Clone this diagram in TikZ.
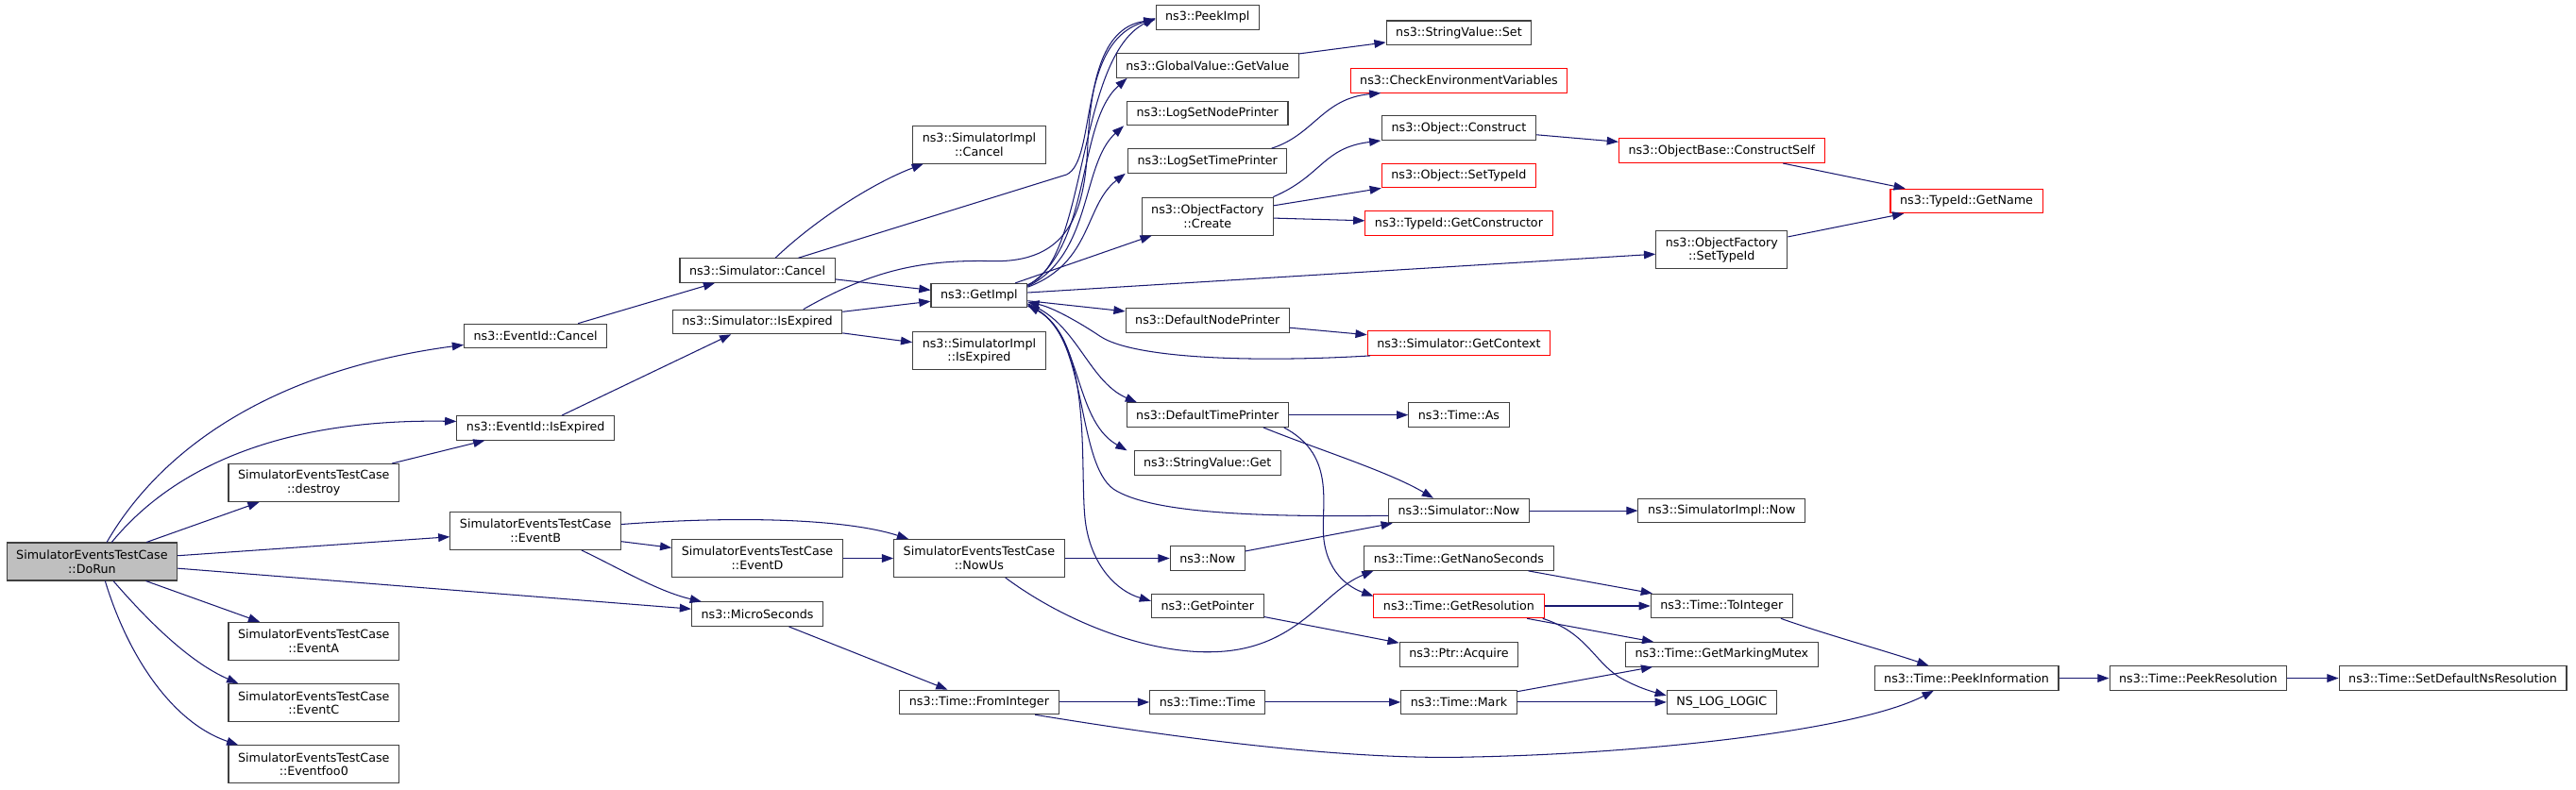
\documentclass[tikz,border=0pt]{standalone}
\usepackage{fontspec}
\setmainfont{DejaVu Sans}
\usetikzlibrary{arrows.meta}
\definecolor{edgecol}{RGB}{25,25,112}
\definecolor{boxgray}{RGB}{64,64,64}
\definecolor{grayfill}{RGB}{191,191,191}
\definecolor{redline}{RGB}{255,0,0}
\newcommand\dxfont{\fontsize{7.3pt}{8.4pt}\selectfont}
\tikzset{
  box/.style={draw=boxgray, line width=0.6pt, fill=white, inner xsep=5.8pt, inner ysep=0pt, minimum height=14.7pt, font=\dxfont},
  box2/.style={box, align=center, minimum height=23pt},
  redbox/.style={box, draw=redline},
  call/.style={draw=edgecol, line width=0.6pt, -{Triangle[length=7pt,width=5pt]}}
}
\begin{document}
\begin{tikzpicture}[x=1pt,y=-1pt]
\fill[white] (0,0) rectangle (1568,481);
\useasboundingbox (0,0) rectangle (1568,481);
% nodes
\node[box2,fill=grayfill] (DoRun) at (56,342) {SimulatorEventsTestCase\\::DoRun};
\node[box2] (destroy) at (191,294) {SimulatorEventsTestCase\\::destroy};
\node[box2] (EventA) at (191,390.5) {SimulatorEventsTestCase\\::EventA};
\node[box2] (EventC) at (191,428) {SimulatorEventsTestCase\\::EventC};
\node[box2] (Eventfoo) at (191,465.5) {SimulatorEventsTestCase\\::Eventfoo0};
\node[box] (EvCancel) at (326,204.6) {ns3::EventId::Cancel};
\node[box] (EvIsExp) at (326,260.6) {ns3::EventId::IsExpired};
\node[box2] (EventB) at (326,323.3) {SimulatorEventsTestCase\\::EventB};
\node[box] (SimCancel) at (461,164.7) {ns3::Simulator::Cancel};
\node[box] (SimIsExp) at (461,196) {ns3::Simulator::IsExpired};
\node[box2] (EventD) at (461,340) {SimulatorEventsTestCase\\::EventD};
\node[box] (Micro) at (461,374) {ns3::MicroSeconds};
\node[box2] (SimImplCancel) at (596,88) {ns3::SimulatorImpl\\::Cancel};
\node[box] (GetImpl) at (596,180) {ns3::GetImpl};
\node[box2] (SimImplIsExp) at (596,213.8) {ns3::SimulatorImpl\\::IsExpired};
\node[box2] (NowUs) at (596,340) {SimulatorEventsTestCase\\::NowUs};
\node[box] (FromInt) at (596,427.6) {ns3::Time::FromInteger};
\node[box] (PeekImpl) at (735,10.5) {ns3::PeekImpl};
\node[box] (GetValue) at (735,40) {ns3::GlobalValue::GetValue};
\node[box] (LSNP) at (735,69) {ns3::LogSetNodePrinter};
\node[box] (LSTP) at (735,98) {ns3::LogSetTimePrinter};
\node[box2] (OFCreate) at (735,131.7) {ns3::ObjectFactory\\::Create};
\node[box] (DNP) at (735,195) {ns3::DefaultNodePrinter};
\node[box] (DTP) at (735,252.7) {ns3::DefaultTimePrinter};
\node[box] (SVGet) at (735,282) {ns3::StringValue::Get};
\node[box] (Now) at (735,340) {ns3::Now};
\node[box] (GetPointer) at (735,369) {ns3::GetPointer};
\node[box] (TimeTime) at (735,427.6) {ns3::Time::Time};
\node[box] (SVSet) at (888,20) {ns3::StringValue::Set};
\node[redbox] (CheckEnv) at (888,49) {ns3::CheckEnvironmentVariables};
\node[box] (ObjConstruct) at (888,78) {ns3::Object::Construct};
\node[redbox] (ObjSetTypeId) at (888,107) {ns3::Object::SetTypeId};
\node[redbox] (GetCtor) at (888,136) {ns3::TypeId::GetConstructor};
\node[redbox] (GetContext) at (888,209) {ns3::Simulator::GetContext};
\node[box] (TimeAs) at (888,252.7) {ns3::Time::As};
\node[box] (SimNow) at (888,311) {ns3::Simulator::Now};
\node[box] (GetNano) at (888,340) {ns3::Time::GetNanoSeconds};
\node[redbox] (GetRes) at (888,369) {ns3::Time::GetResolution};
\node[box] (PtrAcq) at (888,398.5) {ns3::Ptr::Acquire};
\node[box] (Mark) at (888,427.6) {ns3::Time::Mark};
\node[redbox] (ConstructSelf) at (1048,91.8) {ns3::ObjectBase::ConstructSelf};
\node[box2] (OFSetTypeId) at (1048,152.3) {ns3::ObjectFactory\\::SetTypeId};
\node[box] (SimImplNow) at (1048,311) {ns3::SimulatorImpl::Now};
\node[box] (ToInteger) at (1048,369) {ns3::Time::ToInteger};
\node[box] (GetMutex) at (1048,398.5) {ns3::Time::GetMarkingMutex};
\node[box] (NSLOG) at (1048,427.6) {NS\_LOG\_LOGIC};
\node[redbox] (GetName) at (1197,122.4) {ns3::TypeId::GetName};
\node[box] (PeekInfo) at (1197,413) {ns3::Time::PeekInformation};
\node[box] (PeekRes) at (1338,413) {ns3::Time::PeekResolution};
\node[box] (SetDefNs) at (1493,413) {ns3::Time::SetDefaultNsResolution};
% edges from DoRun
\draw[call] ([xshift=9pt]DoRun.north) .. controls (100,270) and (170,225) .. ([yshift=-5.4pt]EvCancel.west);
\draw[call] ([xshift=12pt]DoRun.north) .. controls (105,285) and (170,255) .. ([yshift=4pt]EvIsExp.west);
\draw[call] (DoRun) -- (destroy);
\draw[call] (DoRun) -- (EventB);
\draw[call] (DoRun) -- (Micro);
\draw[call] (DoRun) -- (EventA);
\draw[call] ([xshift=13pt]DoRun.south) .. controls (90,378) and (115,403) .. ([xshift=-46pt]EventC.north);
\draw[call] ([xshift=8pt]DoRun.south) .. controls (78,400) and (105,440) .. ([xshift=-46pt]Eventfoo.north);
% second column
\draw[call] (destroy) -- (EvIsExp);
\draw[call] (EvCancel) -- (SimCancel);
\draw[call] (EvIsExp) -- (SimIsExp);
\draw[call] ([yshift=4pt]EventB.east) .. controls (450,314) and (515,316) .. ([xshift=-43pt]NowUs.north);
\draw[call] (EventB) -- (EventD);
\draw[call] ([xshift=28pt]EventB.south) .. controls (375,345) and (400,360) .. ([xshift=-34pt]Micro.north);
\draw[call] (EventD) -- (NowUs);
\draw[call] (NowUs) -- (Now);
\draw[call] ([xshift=16pt]NowUs.south) .. controls (650,380) and (700,398) .. (738,397) .. controls (790,396) and (805,360) .. ([xshift=-52pt]GetNano.south);
\draw[call] (Micro) -- (FromInt);
\draw[call] (FromInt) -- (TimeTime);
\draw[call] ([xshift=34pt]FromInt.south) .. controls (720,450) and (820,463) .. (895,461) .. controls (1000,459) and (1130,445) .. ([xshift=-20pt]PeekInfo.south);
% simulator
\draw[call] ([xshift=11pt]SimCancel.north) .. controls (495,135) and (530,112) .. ([xshift=-34pt]SimImplCancel.south);
\draw[call] ([xshift=25pt]SimCancel.north) -- (649.3,106.3) .. controls (668,97) and (655,25) .. ([yshift=-1pt]PeekImpl.west);
\draw[call] (SimCancel) -- (GetImpl);
\draw[call] (SimIsExp) -- (GetImpl);
\draw[call] (SimIsExp) -- (SimImplIsExp);
\draw[call] ([xshift=28pt]SimIsExp.north) .. controls (530,165) and (560,158) .. (604,159) .. controls (650,160) and (660,130) .. (662,90) .. controls (664,40) and (675,16) .. ([yshift=-1.5pt]PeekImpl.west);
% GetImpl
\draw[call] ([yshift=-1pt]GetImpl.north east) .. controls (662,160) and (655,35) .. ([yshift=-0.5pt]PeekImpl.west);
\draw[call] ([yshift=-1.5pt]GetImpl.north east) .. controls (665,150) and (655,75) .. ([xshift=-49pt]GetValue.south);
\draw[call] ([yshift=-2pt]GetImpl.north east) .. controls (665,155) and (658,100) .. ([xshift=-51pt]LSNP.south);
\draw[call] ([yshift=-2.5pt]GetImpl.north east) .. controls (665,160) and (660,125) .. ([xshift=-50pt]LSTP.south);
\draw[call] (GetImpl) -- (OFCreate);
\draw[call] (GetImpl) -- (OFSetTypeId);
\draw[call] (GetImpl) -- (DNP);
\draw[call] ([xshift=2pt]GetContext.south west) .. controls (760,221) and (690,218) .. (670,205) .. controls (655,195) and (640,187) .. ([yshift=-4pt]GetImpl.east);
\draw[call] ([yshift=-3pt]SimNow.west) .. controls (760,315) and (700,312) .. (678,298) .. controls (655,282) and (662,205) .. ([yshift=-6pt]GetImpl.east);
\draw[call] ([yshift=-5pt]GetImpl.east) .. controls (655,195) and (662,232) .. ([xshift=-43pt]DTP.north);
\draw[call] ([yshift=-5.5pt]GetImpl.east) .. controls (660,200) and (652,255) .. ([xshift=-49pt]SVGet.north);
\draw[call] ([yshift=-6.5pt]GetImpl.east) .. controls (668,200) and (656,290) .. (661,320) .. controls (665,345) and (680,360) .. ([yshift=3pt]GetPointer.west);
% fifth column
\draw[call] (GetValue) -- (SVSet);
\draw[call] ([xshift=39pt]LSTP.north) .. controls (800,82) and (805,60) .. ([xshift=-47.5pt]CheckEnv.south);
\draw[call] ([xshift=40pt]OFCreate.north) .. controls (805,107) and (805,90) .. ([xshift=-47.5pt]ObjConstruct.south);
\draw[call] (OFCreate) -- (ObjSetTypeId);
\draw[call] (OFCreate) -- (GetCtor);
\draw[call] (ObjConstruct) -- (ConstructSelf);
\draw[call] (ConstructSelf) -- (GetName);
\draw[call] (OFSetTypeId) -- (GetName);
\draw[call] (DNP) -- (GetContext);
\draw[call] (DTP) -- (TimeAs);
\draw[call] ([xshift=34pt]DTP.south) .. controls (800,273) and (845,287) .. ([xshift=-15.5pt]SimNow.north);
\draw[call] ([xshift=46.5pt]DTP.south) .. controls (815,278) and (803,310) .. (806,330) .. controls (809,350) and (822,358) .. ([yshift=6pt]GetRes.west);
\draw[call] (SimNow) -- (SimImplNow);
\draw[call] (Now) -- (SimNow);
\draw[call] (GetNano) -- (ToInteger);
\draw[call] (GetRes) -- (ToInteger);
\draw[call] (GetRes) -- (GetMutex);
\draw[call] ([xshift=-1pt]GetRes.south east) .. controls (965,385) and (970,402) .. (985,412) .. controls (995,418) and (1005,421) .. ([yshift=4pt]NSLOG.west);
\draw[call] (GetPointer) -- (PtrAcq);
\draw[call] (TimeTime) -- (Mark);
\draw[call] (Mark) -- (GetMutex);
\draw[call] (Mark) -- (NSLOG);
\draw[call] ([xshift=36pt]ToInteger.south) .. controls (1110,386) and (1150,397) .. ([xshift=-23pt]PeekInfo.north);
\draw[call] (PeekInfo) -- (PeekRes);
\draw[call] (PeekRes) -- (SetDefNs);
\end{tikzpicture}
\end{document}
